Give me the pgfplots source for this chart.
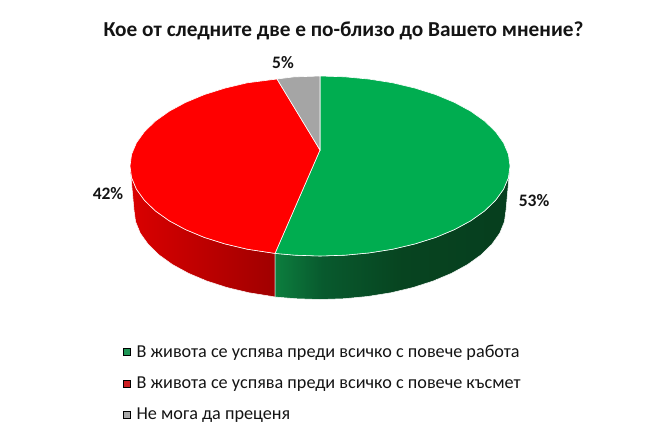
\documentclass[border=0pt]{standalone}
\usepackage{fontspec}
\setmainfont{Carlito}
\usepackage{pgfplots}
\pgfplotsset{compat=1.18}
\definecolor{pgreen}{RGB}{0,173,80}
\definecolor{pred}{RGB}{255,0,0}
\definecolor{pgrey}{RGB}{165,165,165}
\definecolor{leggreen}{RGB}{30,150,85}
\definecolor{legred}{RGB}{205,30,35}
\definecolor{leggrey}{RGB}{170,170,170}
\definecolor{txt}{RGB}{20,20,20}
\definecolor{gs1}{RGB}{12,126,62}
\definecolor{gs2}{RGB}{8,90,46}
\definecolor{gs3}{RGB}{7,68,32}
\definecolor{gs4}{RGB}{6,62,30}
\definecolor{rs1}{RGB}{218,0,0}
\definecolor{rs2}{RGB}{160,0,0}
\pgfdeclarehorizontalshading{greenside}{100bp}{color(0bp)=(gs1); color(25bp)=(gs1); color(35bp)=(gs2); color(52bp)=(gs3); color(75bp)=(gs4); color(100bp)=(gs4)}
\pgfdeclarehorizontalshading{redside}{100bp}{color(0bp)=(rs1); color(25bp)=(rs1); color(75bp)=(rs2); color(100bp)=(rs2)}

\begin{document}
\begin{tikzpicture}
  \path[use as bounding box] (0,0) rectangle (660pt,440pt);
  \begin{axis}[
    at={(0,0)}, anchor=south west,
    width=660pt, height=440pt, scale only axis,
    xmin=0, xmax=660, ymin=0, ymax=440, y dir=reverse,
    hide axis, clip=false,
    legend style={at={(axis cs:123,343.5)}, anchor=north west, draw=none, fill=none,
      font=\fontsize{18.2}{20}\selectfont\color{txt}, row sep=15pt, inner sep=0pt,
      nodes={inner sep=1.5pt}},
    legend cell align=left,
    legend image code/.code={\fill[#1] (0pt,-3.5pt) rectangle (7pt,3.5pt);},
  ]
    % side walls
    \addplot[forget plot, draw=white, line width=0.5pt, shading=redside] coordinates {
      (130,166) (131.6,177.7) (136.5,189.3) (144.5,200.4) (155.5,211) (169.3,220.8)
      (185.6,229.6) (204.3,237.4) (225,243.9) (247.3,249.2) (275,253.4)
      (275,297) (271.9,296.4) (248.8,292.7) (227,287.5) (206.8,281) (188.5,273.3)
      (172.4,264.5) (158.9,254.8) (148.2,244.3) (140.3,233.2) (135.6,221.7) (134,210)
    } --cycle;
    \addplot[forget plot, draw=white, line width=0.5pt, shading=greenside] coordinates {
      (275,253.4) (295.2,255.2) (320,256) (344.8,255.2) (369.2,252.9) (392.7,249.2)
      (415,243.9) (435.7,237.4) (454.4,229.6) (470.7,220.8) (484.5,211) (495.5,200.4)
      (503.5,189.3) (508.4,177.7) (510,166)
      (506,210) (504.4,221.7) (499.7,233.2) (491.8,244.3) (481.1,254.8) (467.6,264.5)
      (451.5,273.3) (433.2,281) (413,287.5) (391.2,292.7) (368.1,296.4) (344.3,298.7)
      (320,299.5) (295.7,298.7) (275,297)
    } --cycle;

    % top slices: 53 / 42 / 5
    \addplot[forget plot, fill=pgreen, draw=white, line width=0.6pt] coordinates {
      (320,150) (320,76) (344.8,76.8) (369.2,79.1) (392.7,82.8) (415,88.1) (435.7,94.6)
      (454.4,102.4) (470.7,111.2) (484.5,121) (495.5,131.6) (503.5,142.7) (508.4,154.3)
      (510,166) (508.4,177.7) (503.5,189.3) (495.5,200.4) (484.5,211) (470.7,220.8)
      (454.4,229.6) (435.7,237.4) (415,243.9) (392.7,249.2) (369.2,252.9) (344.8,255.2)
      (320,256) (295.2,255.2) (275,253.4)
    } --cycle;
    \addplot[forget plot, fill=pred, draw=white, line width=0.6pt] coordinates {
      (320,150) (275,253.4) (247.3,249.2) (225,243.9) (204.3,237.4) (185.6,229.6)
      (169.3,220.8) (155.5,211) (144.5,200.4) (136.5,189.3) (131.6,177.7) (130,166)
      (131.6,154.3) (136.5,142.7) (144.5,131.6) (155.5,121) (169.3,111.2) (185.6,102.4)
      (204.3,94.6) (225,88.1) (247.3,82.8) (277,79)
    } --cycle;
    \addplot[forget plot, fill=pgrey, draw=white, line width=0.6pt] coordinates {
      (320,150) (277,79) (293.6,76.9) (320,76)
    } --cycle;

    % legend entries
    \addlegendimage{fill=leggreen}
    \addlegendentry{\hspace{4.5pt}В живота се успява преди всичко с повече работа}
    \addlegendimage{fill=legred}
    \addlegendentry{\hspace{4.5pt}В живота се успява преди всичко с повече късмет}
    \addlegendimage{fill=leggrey}
    \addlegendentry{\hspace{4.5pt}Не мога да преценя}

    % title and data labels
    \node[font=\fontsize{21.3}{24}\selectfont\bfseries, text=txt] at (axis cs:343.5,31) {Кое от следните две е по-близо до Вашето мнение?};
    \node[font=\fontsize{17.5}{20}\selectfont\bfseries, text=txt] at (axis cs:283,63) {5\%};
    \node[font=\fontsize{17.5}{20}\selectfont\bfseries, text=txt] at (axis cs:108,194) {42\%};
    \node[font=\fontsize{17.5}{20}\selectfont\bfseries, text=txt] at (axis cs:534,201) {53\%};
  \end{axis}
\end{tikzpicture}
\end{document}
